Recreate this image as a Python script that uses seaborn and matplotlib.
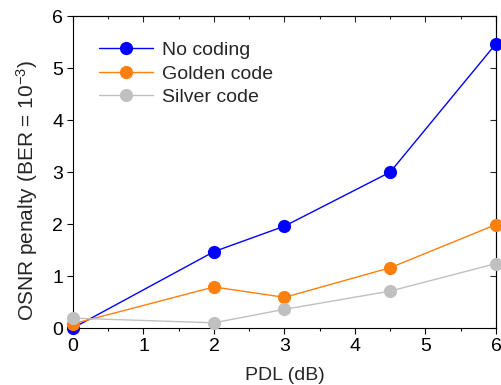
import pandas as pd
import matplotlib.pyplot as plt
import seaborn as sns
from matplotlib.ticker import MultipleLocator

sns.set_theme(style="ticks")
plt.rcParams['font.family'] = ['Liberation Sans', 'DejaVu Sans']
plt.rcParams['mathtext.fontset'] = 'custom'
plt.rcParams['mathtext.rm'] = 'Liberation Sans'
plt.rcParams['mathtext.default'] = 'regular'

pdl = [0, 2, 3, 4.5, 6]
no_coding = [0.0, 1.47, 1.96, 3.0, 5.47]
golden_code = [0.08, 0.79, 0.59, 1.16, 1.99]
silver_code = [0.19, 0.10, 0.36, 0.71, 1.24]

series = {
    "No coding": (no_coding, "#0000ff"),
    "Golden code": (golden_code, "#ff7f0e"),
    "Silver code": (silver_code, "#c0c0c0"),
}

fig = plt.figure(figsize=(5.02, 3.85), dpi=100)
ax = fig.add_axes([0.1454, 0.148, 0.8426, 0.81])

for name, (vals, color) in series.items():
    df = pd.DataFrame({"PDL": pdl, "penalty": vals})
    sns.lineplot(data=df, x="PDL", y="penalty", ax=ax, color=color, label=name,
                 marker="o", markersize=9.5, markeredgewidth=0, linewidth=1,
                 clip_on=False, zorder=3)

ax.set_xlim(0, 6)
ax.set_ylim(0, 6)
ax.xaxis.set_major_locator(MultipleLocator(1))
ax.xaxis.set_minor_locator(MultipleLocator(0.5))
ax.yaxis.set_major_locator(MultipleLocator(1))
ax.tick_params(which='both', direction='out', labelsize=14, colors='black')
ax.tick_params(which='major', length=4, width=0.8, pad=3)
ax.tick_params(which='minor', length=2.5, width=0.8)
for s in ax.spines.values():
    s.set_color('black')
    s.set_linewidth(0.8)

# mirrored ticks pointing inward on top and right
top = ax.secondary_xaxis('top')
top.xaxis.set_major_locator(MultipleLocator(1))
top.xaxis.set_minor_locator(MultipleLocator(0.5))
top.tick_params(which='both', direction='in', labeltop=False, width=0.8)
top.tick_params(which='major', length=4)
top.tick_params(which='minor', length=2.5)
right = ax.secondary_yaxis('right')
right.yaxis.set_major_locator(MultipleLocator(1))
right.tick_params(direction='in', labelright=False, length=4, width=0.8)
for sec in (top, right):
    for s in sec.spines.values():
        s.set_linewidth(0.8)

ax.set_xlabel("PDL (dB)", fontsize=14, va='top')
ax.xaxis.set_label_coords(0.5, -0.125)
ax.set_ylabel("OSNR penalty (BER = 10$^{-3}$)", fontsize=15)
ax.yaxis.set_label_coords(-0.078, 0.44)

ax.legend(loc='upper left', bbox_to_anchor=(0.02, 0.975), frameon=False, fontsize=14,
          handlelength=2.8, handletextpad=0.45, labelspacing=0.3)

fig.savefig("out.png", dpi=100)
